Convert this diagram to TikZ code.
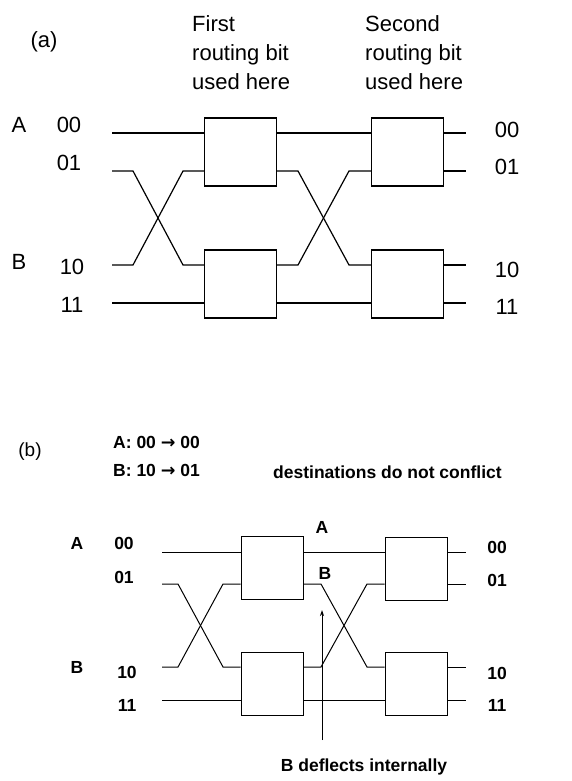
\documentclass[tikz,border=0pt]{standalone}
\usepackage{fontspec}
\setmainfont{Liberation Sans}
\newfontfamily\arrowfont{DejaVu Sans}
\usepackage{tikz}
\usetikzlibrary{arrows.meta}

\newcommand{\goesto}{{\arrowfont\bfseries →}}

\begin{document}
\begin{tikzpicture}[x=1pt, y=-1pt,
    swa/.style={draw, line width=1.2pt, minimum width=72pt, minimum height=68pt, inner sep=0pt},
    swb/.style={draw, line width=1pt, minimum width=62pt, minimum height=63pt, inner sep=0pt},
    txa/.style={font=\fontsize{22}{29}\selectfont, inner sep=0pt},
    txb/.style={font=\fontsize{17.5}{21}\selectfont\bfseries, inner sep=0pt}]
  \useasboundingbox (0,0) rectangle (572,781);
  % (a) plain routing
  \node[txa] (tagA) at (44,42) {(a)};
  \node[txa, align=left, anchor=north west] (firstbit) at (192,15) {First\\routing bit\\used here};
  \node[txa, align=left, anchor=north west] (secbit) at (365,15) {Second\\routing bit\\used here};
  \node[swa] (a1) at (240.5,152) {};
  \node[swa] (a2) at (240.5,284) {};
  \node[swa] (a3) at (407.5,152) {};
  \node[swa] (a4) at (407.5,284) {};
  \coordinate (ia0) at (112,133);
  \coordinate (ia1) at (112,171);
  \coordinate (ia2) at (112,265);
  \coordinate (ia3) at (112,303);
  \begin{scope}[line width=1.2pt]
    \draw (ia0) -- (ia0 -| a1.west);
    \draw (ia1) -- (133,171) -- (183,265) -- (ia2 -| a2.west);
    \draw (ia2) -- (133,265) -- (183,171) -- (ia1 -| a1.west);
    \draw (ia3) -- (ia3 -| a2.west);
    \draw (ia0 -| a1.east) -- (ia0 -| a3.west);
    \draw (ia1 -| a1.east) -- (298,171) -- (349,265) -- (ia2 -| a4.west);
    \draw (ia2 -| a2.east) -- (298,265) -- (349,171) -- (ia1 -| a3.west);
    \draw (ia3 -| a2.east) -- (ia3 -| a4.west);
    \foreach \w in {0,1,2,3}
      \draw (ia\w -| a4.east) -- ++(22,0);
  \end{scope}
  \node[txa] (srcA) at (19,125) {A};
  \node[txa] (srcB) at (19,262) {B};
  \node[txa] (ina0) at (69,125) {00};
  \node[txa] (ina1) at (69,163) {01};
  \node[txa] (ina2) at (72,267) {10};
  \node[txa] (ina3) at (72,305) {11};
  \node[txa] (outa0) at (507,130) {00};
  \node[txa] (outa1) at (507,167) {01};
  \node[txa] (outa2) at (507,270) {10};
  \node[txa] (outa3) at (507,307) {11};
  % (b) deflection
  \node[font=\fontsize{19}{22}\selectfont, inner sep=0pt] (tagB) at (30,452) {(b)};
  \node[txb, anchor=west] (routeA) at (113,442) {A: 00 \goesto{} 00};
  \node[txb, anchor=west] (routeB) at (113,470) {B: 10 \goesto{} 01};
  \node[txb, anchor=west] (noconf) at (273,472) {destinations do not conflict};
  \node[swb] (b1) at (272,568) {};
  \node[swb] (b2) at (272,684) {};
  \node[swb] (b3) at (416,569) {};
  \node[swb] (b4) at (416,684) {};
  \coordinate (ib0) at (162,552);
  \coordinate (ib1) at (162,584);
  \coordinate (ib2) at (162,667);
  \coordinate (ib3) at (162,700);
  \begin{scope}[line width=1pt]
    \draw (ib0) -- (ib0 -| b1.west);
    \draw (ib1) -- (178,584) -- (223,667) -- (ib2 -| b2.west);
    \draw (ib2) -- (178,667) -- (223,584) -- (ib1 -| b1.west);
    \draw (ib3) -- (ib3 -| b2.west);
    \draw (ib0 -| b1.east) -- (ib0 -| b3.west);
    \draw (ib1 -| b1.east) -- (321,584) -- (367,667) -- (ib2 -| b4.west);
    \draw (ib2 -| b2.east) -- (321,667) -- (367,584) -- (ib1 -| b3.west);
    \draw (ib3 -| b2.east) -- (ib3 -| b4.west);
    \foreach \w in {0,1,2,3}
      \draw (ib\w -| b4.east) -- ++(18,0);
  \end{scope}
  \node[txb] (srcbA) at (77,543) {A};
  \node[txb] (srcbB) at (77,667) {B};
  \node[txb] (inb0) at (124,543) {00};
  \node[txb] (inb1) at (124,577) {01};
  \node[txb] (inb2) at (127,672) {10};
  \node[txb] (inb3) at (127,705) {11};
  \node[txb] (outb0) at (497,547) {00};
  \node[txb] (outb1) at (497,580) {01};
  \node[txb] (outb2) at (497,673) {10};
  \node[txb] (outb3) at (497,705) {11};
  \node[txb] (midA) at (322,527) {A};
  \node[txb] (midB) at (325,573) {B};
  \coordinate (tail) at (322,740);
  \coordinate (tip) at (322,610);
  \draw[line width=1pt, -{Stealth[length=6pt, width=4pt]}] (tail) -- (tip);
  \node[txb] (deflect) at (364,767) {B deflects internally};
\end{tikzpicture}
\end{document}
